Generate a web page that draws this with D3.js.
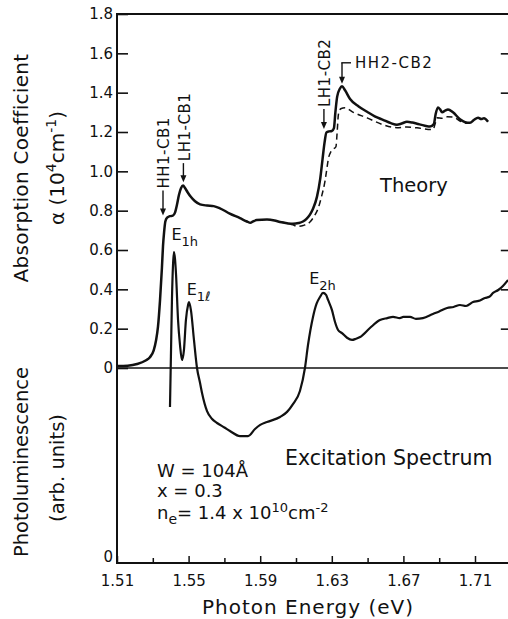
<!DOCTYPE html>
<html>
<head>
<meta charset="utf-8">
<script src="https://cdn.jsdelivr.net/npm/d3@7"></script>
<style>
  body { margin: 0; background: #fff; }
  text { font-family: "DejaVu Sans", sans-serif; fill: #111; }
</style>
</head>
<body>
<div id="chart"></div>
<script>
// tick values
const alphaTicks = [0, 0.2, 0.4, 0.6, 0.8, 1.0, 1.2, 1.4, 1.6, 1.8];
const alphaTickLabels = ["0", "0.2", "0.4", "0.6", "0.8", "1.0", "1.2", "1.4", "1.6", "1.8"];
const energyTicks = [1.51, 1.55, 1.59, 1.63, 1.67, 1.71];
const energyMinorTicks = [1.53, 1.57, 1.61, 1.65, 1.69];

// theory absorption, solid  [eV, 10^4 cm^-1]
const theorySolid = [
  [1.5100, 0.010], [1.5160, 0.012], [1.5212, 0.020], [1.5260, 0.038], [1.5284, 0.055],
  [1.5305, 0.09], [1.5318, 0.14], [1.5329, 0.21], [1.5340, 0.34], [1.5351, 0.51],
  [1.5357, 0.62], [1.5363, 0.69], [1.5370, 0.745], [1.5380, 0.765], [1.5395, 0.772],
  [1.5412, 0.775], [1.5424, 0.79], [1.5435, 0.83], [1.5446, 0.88], [1.5458, 0.915],
  [1.5469, 0.928], [1.5480, 0.915], [1.5495, 0.893], [1.5510, 0.873], [1.5536, 0.848],
  [1.5564, 0.832], [1.5603, 0.826], [1.5640, 0.823], [1.5675, 0.812], [1.5730, 0.785],
  [1.5787, 0.762], [1.5826, 0.745], [1.5845, 0.738], [1.5860, 0.745], [1.5880, 0.752],
  [1.5938, 0.755], [1.5980, 0.750], [1.6011, 0.742], [1.6050, 0.736], [1.6083, 0.733],
  [1.6115, 0.737], [1.6139, 0.745], [1.6160, 0.76], [1.6178, 0.78], [1.6195, 0.81],
  [1.6217, 0.87], [1.6235, 0.96], [1.6248, 1.06], [1.6260, 1.15], [1.6270, 1.198],
  [1.6285, 1.203], [1.6300, 1.205], [1.6312, 1.22], [1.6320, 1.30], [1.6330, 1.38],
  [1.6345, 1.42], [1.6357, 1.432], [1.6374, 1.412], [1.6402, 1.368], [1.6450, 1.330],
  [1.6497, 1.303], [1.6540, 1.280], [1.6586, 1.262], [1.6630, 1.245], [1.6664, 1.237],
  [1.6690, 1.243], [1.6720, 1.252], [1.6750, 1.248], [1.6776, 1.242], [1.6820, 1.232],
  [1.6849, 1.228], [1.6870, 1.24], [1.6880, 1.29], [1.6893, 1.325], [1.6905, 1.315],
  [1.6916, 1.300], [1.6935, 1.310], [1.6949, 1.315], [1.6977, 1.300], [1.7016, 1.265],
  [1.7045, 1.250], [1.7072, 1.247], [1.7095, 1.262], [1.7117, 1.273], [1.7135, 1.266],
  [1.7150, 1.270], [1.7173, 1.252]
];

// theory absorption, dashed (where it departs from the solid one)
const theoryDashed = [
  [1.6011, 0.742], [1.6083, 0.728], [1.6106, 0.720], [1.6140, 0.725], [1.6178, 0.742],
  [1.6200, 0.77], [1.6223, 0.81], [1.6245, 0.88], [1.6262, 0.95], [1.6272, 1.01],
  [1.6280, 1.06], [1.6295, 1.10], [1.6312, 1.115], [1.6323, 1.125], [1.6330, 1.20],
  [1.6337, 1.29], [1.6350, 1.318], [1.6374, 1.323], [1.6420, 1.300], [1.6497, 1.272],
  [1.6586, 1.237], [1.6664, 1.222], [1.6720, 1.226], [1.6776, 1.221], [1.6865, 1.212],
  [1.6880, 1.25], [1.6890, 1.272], [1.6916, 1.270], [1.6944, 1.277], [1.6977, 1.276],
  [1.7016, 1.256], [1.7050, 1.245], [1.7072, 1.245]
];

// photoluminescence excitation spectrum  [eV, arb. units]
const pleCurve = [
  [1.5396, 0.80], [1.5402, 1.10], [1.5407, 1.35], [1.5413, 1.53], [1.5418, 1.595],
  [1.5424, 1.56], [1.5430, 1.477], [1.5441, 1.246], [1.5452, 1.118], [1.5463, 1.041],
  [1.5474, 1.092], [1.5485, 1.246], [1.5497, 1.323], [1.5502, 1.338], [1.5513, 1.297],
  [1.5530, 1.144], [1.5547, 1.0], [1.5564, 0.923], [1.5575, 0.872], [1.5603, 0.779],
  [1.5630, 0.740], [1.5659, 0.718], [1.5700, 0.695], [1.5731, 0.677], [1.5787, 0.651],
  [1.5832, 0.651], [1.5871, 0.687], [1.5900, 0.708], [1.5938, 0.723], [1.6011, 0.749],
  [1.6050, 0.775], [1.6083, 0.815], [1.6122, 0.882], [1.6150, 1.0], [1.6167, 1.118],
  [1.6195, 1.262], [1.6215, 1.33], [1.6234, 1.364], [1.6251, 1.385], [1.6268, 1.375],
  [1.6279, 1.349], [1.6301, 1.297], [1.6318, 1.236], [1.6335, 1.195], [1.6357, 1.179],
  [1.6385, 1.155], [1.6413, 1.144], [1.6435, 1.150], [1.6458, 1.159], [1.6513, 1.205],
  [1.6569, 1.246], [1.6610, 1.256], [1.6642, 1.262], [1.6680, 1.256], [1.6700, 1.262],
  [1.6737, 1.262], [1.6770, 1.252], [1.6809, 1.256], [1.6865, 1.277], [1.6900, 1.290],
  [1.6944, 1.308], [1.6980, 1.313], [1.7016, 1.323], [1.7050, 1.318], [1.7089, 1.338],
  [1.7120, 1.344], [1.7156, 1.359], [1.7180, 1.365], [1.7201, 1.385], [1.7230, 1.400],
  [1.7256, 1.421], [1.7284, 1.451]
];

// transition labels: energy of arrow, alpha at arrow tip
const transitions = [
  { label: "HH1-CB1", e: 1.5357, tip: 0.77, len: 25, vertical: true },
  { label: "LH1-CB1", e: 1.5471, tip: 0.94, len: 19, vertical: true },
  { label: "LH1-CB2", e: 1.6256, tip: 1.21, len: 20, vertical: true },
  { label: "HH2-CB2", e: 1.6357, tip: 1.44, len: 21, vertical: false }
];

const width = 508, height = 619;
const svg = d3.select("#chart").append("svg")
    .attr("width", width)
    .attr("height", height);

// scales
const x = d3.scaleLinear().domain([1.51, 1.73]).range([117, 510.8]);
const yAbs = d3.scaleLinear().domain([0, 1.8]).range([368, 14]);
const yPL = d3.scaleLinear().domain([0, 1]).range([563, 368]);

const plotLeft = x(1.51), plotRight = x(1.73), plotTop = yAbs(1.8), plotBottom = yPL(0);

// frame: left spine, top line, bottom axis line, zero line
svg.append("line").attr("x1", plotLeft).attr("x2", plotLeft).attr("y1", plotTop - 1).attr("y2", plotBottom + 1)
    .attr("stroke", "#111").attr("stroke-width", 2);
svg.append("line").attr("x1", plotLeft - 1).attr("x2", width).attr("y1", plotTop).attr("y2", plotTop)
    .attr("stroke", "#111").attr("stroke-width", 2.2);
svg.append("line").attr("x1", plotLeft - 1).attr("x2", width).attr("y1", plotBottom).attr("y2", plotBottom)
    .attr("stroke", "#111").attr("stroke-width", 2);
svg.append("line").attr("x1", plotLeft).attr("x2", width).attr("y1", yAbs(0)).attr("y2", yAbs(0))
    .attr("stroke", "#111").attr("stroke-width", 1.4);

// left axis (inward ticks)
const yAxis = svg.append("g")
    .attr("transform", `translate(${plotLeft},0)`)
    .call(d3.axisLeft(yAbs).tickValues(alphaTicks)
        .tickFormat((d, i) => alphaTickLabels[i])
        .tickSizeInner(-11).tickSizeOuter(0).tickPadding(4));
yAxis.select(".domain").remove();
yAxis.selectAll("line").attr("stroke", "#111").attr("stroke-width", 1.6);
yAxis.selectAll("text").style("font-size", "15px").attr("fill", "#111")
    .style("font-family", "DejaVu Sans");

// right axis ticks only (spine falls just off the picture)
const yAxisR = svg.append("g")
    .attr("transform", `translate(${plotRight},0)`)
    .call(d3.axisLeft(yAbs).tickValues(alphaTicks.slice(1, -1)).tickFormat("")
        .tickSizeInner(10).tickSizeOuter(0));
yAxisR.select(".domain").remove();
yAxisR.selectAll("line").attr("stroke", "#111").attr("stroke-width", 1.6);

// PL zero label
svg.append("text")
    .attr("x", plotLeft - 4).attr("y", plotBottom - 6).attr("dy", "0.36em")
    .attr("text-anchor", "end").style("font-size", "15px").text("0");

// bottom axis
const xAxis = svg.append("g")
    .attr("transform", `translate(0,${plotBottom})`)
    .call(d3.axisBottom(x).tickValues(energyTicks).tickFormat(d3.format(".2f"))
        .tickSizeInner(-7).tickSizeOuter(0).tickPadding(12));
xAxis.select(".domain").remove();
xAxis.selectAll("line").attr("stroke", "#111").attr("stroke-width", 1.5);
xAxis.selectAll("text").style("font-size", "15px").attr("fill", "#111")
    .style("font-family", "DejaVu Sans");

const xMinor = svg.append("g")
    .attr("transform", `translate(0,${plotBottom})`)
    .call(d3.axisBottom(x).tickValues(energyMinorTicks).tickFormat("")
        .tickSizeInner(-5).tickSizeOuter(0));
xMinor.select(".domain").remove();
xMinor.selectAll("line").attr("stroke", "#111").attr("stroke-width", 1.5);

// curves
const lineAbs = d3.line().x(d => x(d[0])).y(d => yAbs(d[1])).curve(d3.curveMonotoneX);
const linePL = d3.line().x(d => x(d[0])).y(d => yPL(d[1])).curve(d3.curveMonotoneX);

svg.append("path").datum(theoryDashed)
    .attr("fill", "none").attr("stroke", "#111").attr("stroke-width", 1.5)
    .attr("stroke-dasharray", "6,4").attr("d", lineAbs);

svg.append("path").datum(theorySolid)
    .attr("fill", "none").attr("stroke", "#111").attr("stroke-width", 2.5)
    .attr("stroke-linejoin", "round").attr("d", lineAbs);

svg.append("path").datum(pleCurve)
    .attr("fill", "none").attr("stroke", "#111").attr("stroke-width", 2.2)
    .attr("stroke-linejoin", "round").attr("d", linePL);

// transition arrows and labels
const ann = svg.append("g");
transitions.forEach(t => {
    const ax = x(t.e), tipY = yAbs(t.tip) - 1, stemTop = tipY - t.len;
    ann.append("line").attr("x1", ax).attr("x2", ax).attr("y1", stemTop).attr("y2", tipY - 5)
        .attr("stroke", "#111").attr("stroke-width", 1.4);
    ann.append("path")
        .attr("d", `M${ax - 3},${tipY - 7}L${ax + 3},${tipY - 7}L${ax},${tipY}Z`)
        .attr("fill", "#111");
    if (t.vertical) {
        ann.append("text")
            .attr("transform", `translate(${ax + 1},${stemTop - 2}) rotate(-90)`)
            .attr("dy", "0.36em")
            .style("font-size", "15px").style("letter-spacing", "0.5px")
            .text(t.label);
    } else {
        ann.append("line").attr("x1", ax - 0.7).attr("x2", ax + 9).attr("y1", stemTop).attr("y2", stemTop)
            .attr("stroke", "#111").attr("stroke-width", 1.4);
        ann.append("text")
            .attr("x", ax + 13).attr("y", stemTop).attr("dy", "0.36em")
            .style("font-size", "15px").style("letter-spacing", "1.5px")
            .text(t.label);
    }
});

// peak labels E1h, E1l, E2h
function peakLabel(px, py, sub) {
    const t = svg.append("text").attr("x", px).attr("y", py).style("font-size", "16px");
    t.append("tspan").text("E");
    t.append("tspan").attr("dy", 6).style("font-size", "13px").text(sub);
}
peakLabel(x(1.5404), 240, "1h");
peakLabel(x(1.5489), 295, "1ℓ");
peakLabel(x(1.6174), 284, "2h");

// panel texts
svg.append("text").attr("x", 380).attr("y", 192)
    .style("font-size", "19.5px").text("Theory");
svg.append("text").attr("x", 285).attr("y", 465)
    .style("font-size", "20.5px").text("Excitation Spectrum");

svg.append("text").attr("x", 157).attr("y", 477)
    .style("font-size", "18px").text("W = 104Å");
svg.append("text").attr("x", 157).attr("y", 497)
    .style("font-size", "18px").text("x = 0.3");
const ne = svg.append("text").attr("x", 157).attr("y", 519).style("font-size", "18px");
ne.append("tspan").text("n");
ne.append("tspan").attr("dy", 5).style("font-size", "14px").text("e");
ne.append("tspan").attr("dy", -5).text("= 1.4 x 10");
ne.append("tspan").attr("dy", -7).style("font-size", "13px").text("10");
ne.append("tspan").attr("dy", 7).text("cm");
ne.append("tspan").attr("dy", -7).style("font-size", "13px").text("-2");

// axis titles
svg.append("text")
    .attr("transform", "translate(28,168) rotate(-90)")
    .attr("text-anchor", "middle").style("font-size", "20px").style("letter-spacing", "0.3px")
    .text("Absorption Coefficient");

const alphaTitle = svg.append("text")
    .attr("transform", "translate(64,168) rotate(-90)")
    .attr("text-anchor", "middle").style("font-size", "20px");
alphaTitle.append("tspan").text("α (10");
alphaTitle.append("tspan").attr("dy", -8).style("font-size", "14px").text("4");
alphaTitle.append("tspan").attr("dy", 8).text("cm");
alphaTitle.append("tspan").attr("dy", -8).style("font-size", "14px").text("-1");
alphaTitle.append("tspan").attr("dy", 8).text(")");

svg.append("text")
    .attr("transform", "translate(28,462) rotate(-90)")
    .attr("text-anchor", "middle").style("font-size", "19.5px")
    .text("Photoluminescence");
svg.append("text")
    .attr("transform", "translate(64,468) rotate(-90)")
    .attr("text-anchor", "middle").style("font-size", "19.5px")
    .text("(arb. units)");

svg.append("text")
    .attr("x", 308).attr("y", 614)
    .attr("text-anchor", "middle").style("font-size", "20px").style("letter-spacing", "1px")
    .text("Photon Energy (eV)");
</script>
</body>
</html>
